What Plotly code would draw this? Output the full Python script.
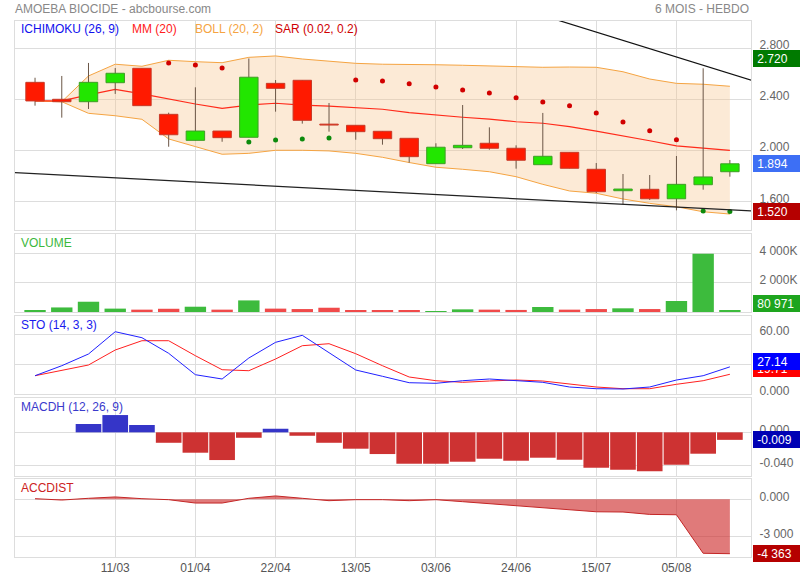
import plotly.graph_objects as go

# ---------------- data (weekly) ----------------
DATES = ["19/02", "26/02", "04/03", "11/03", "18/03", "25/03", "01/04", "08/04", "15/04",
         "22/04", "29/04", "06/05", "13/05", "20/05", "27/05", "03/06", "10/06", "17/06",
         "24/06", "01/07", "08/07", "15/07", "22/07", "29/07", "05/08", "12/08", "19/08"]
TICK_LABELS = ["11/03", "01/04", "22/04", "13/05", "03/06", "24/06", "15/07", "05/08"]

OPEN = [2.533, 2.400, 2.381, 2.530, 2.643, 2.282, 2.078, 2.151, 2.102, 2.525, 2.549, 2.205, 2.196, 2.149,
        2.094, 1.895, 2.020, 2.055, 2.016, 1.887, 1.984, 1.851, 1.683, 1.694, 1.620, 1.730, 1.832]
HIGH = [2.569, 2.583, 2.685, 2.645, 2.643, 2.295, 2.494, 2.151, 2.720, 2.551, 2.549, 2.371, 2.196, 2.149,
        2.094, 2.055, 2.355, 2.180, 2.039, 2.293, 1.984, 1.900, 1.814, 1.806, 1.955, 2.643, 1.924]
LOW = [2.350, 2.256, 2.324, 2.442, 2.350, 2.028, 2.078, 2.067, 2.102, 2.303, 2.209, 2.146, 2.083, 2.044,
       1.903, 1.895, 2.010, 2.005, 1.856, 1.887, 1.859, 1.665, 1.576, 1.610, 1.529, 1.691, 1.793]
CLOSE = [2.387, 2.381, 2.533, 2.604, 2.350, 2.122, 2.151, 2.099, 2.573, 2.486, 2.235, 2.198, 2.146, 2.091,
         1.950, 2.024, 2.039, 2.016, 1.922, 1.953, 1.859, 1.675, 1.696, 1.620, 1.733, 1.791, 1.894]

MM20 = [2.387, 2.387, 2.434, 2.478, 2.442, 2.400, 2.363, 2.329, 2.355, 2.369, 2.355, 2.347, 2.334, 2.322,
        2.296, 2.277, 2.259, 2.245, 2.224, 2.212, 2.185, 2.151, 2.115, 2.075, 2.034, 2.016, 2.000]
BOLL_UP = [2.387, 2.381, 2.583, 2.675, 2.659, 2.706, 2.695, 2.687, 2.729, 2.740, 2.716, 2.700, 2.682, 2.675,
           2.675, 2.671, 2.667, 2.661, 2.656, 2.651, 2.653, 2.651, 2.616, 2.559, 2.525, 2.518, 2.502]
BOLL_LO = [2.387, 2.381, 2.290, 2.271, 2.243, 2.089, 2.029, 1.969, 1.976, 2.000, 2.000, 1.995, 1.976, 1.945,
           1.904, 1.867, 1.851, 1.832, 1.793, 1.733, 1.681, 1.663, 1.618, 1.584, 1.557, 1.518, 1.500]
SAR = [None, None, None, None, None, 2.685, 2.669, 2.645, 2.065, 2.081, 2.089, 2.096, 2.551, 2.544,
       2.522, 2.496, 2.473, 2.449, 2.413, 2.379, 2.350, 2.293, 2.222, 2.154, 2.083, 1.524, 1.520]

# hand-drawn trend lines (week index, price)
TREND_UP_X = [15.0, 27.0]
TREND_UP_Y = [3.317, 2.537]
TREND_LO_X = [-1.0, 27.0]
TREND_LO_Y = [1.827, 1.522]

VOLUME = [110e3, 310e3, 700e3, 230e3, 160e3, 220e3, 360e3, 160e3, 790e3, 230e3, 200e3, 290e3, 90e3, 90e3,
          90e3, 50e3, 180e3, 160e3, 140e3, 340e3, 160e3, 200e3, 250e3, 200e3, 750e3, 3970e3, 80971]
VOL_UP = [1, 1, 1, 1, 0, 0, 1, 0, 1, 0, 0, 0, 0, 0, 0, 1, 1, 0, 0, 1, 0, 0, 1, 0, 1, 1, 1]

STO_K = [18.3, 28.3, 40.0, 62.3, 56.3, 40.7, 19.3, 15.0, 36.0, 51.7, 58.7, 41.0, 24.0, 17.7, 11.3, 10.7,
         13.3, 15.0, 13.7, 11.7, 7.0, 5.3, 5.0, 7.0, 14.0, 18.3, 27.14]
STO_D = [18.3, 23.3, 29.0, 44.0, 53.3, 53.3, 38.3, 24.3, 23.3, 35.0, 48.3, 50.3, 40.3, 28.3, 17.0, 13.3,
         11.7, 13.0, 14.0, 13.0, 9.7, 7.0, 5.3, 5.3, 9.7, 13.3, 19.71]

MACDH = [None, None, 0.0100, 0.0207, 0.0088, -0.0125, -0.0244, -0.0332, -0.0065, 0.0043, -0.0041, -0.0125,
         -0.0196, -0.0260, -0.0376, -0.0376, -0.0352, -0.0316, -0.0340, -0.0304, -0.0328, -0.0424, -0.0448,
         -0.0467, -0.0388, -0.0256, -0.0090]

ACCDIST = [50, -60, 80, 190, 50, -30, -300, -300, 80, 270, 80, -110, -30, -30, -110, -30, -190, -350,
           -480, -700, -840, -1000, -1020, -1210, -1240, -4330, -4363]

PERIOD_HIGH = 2.720
PERIOD_LOW = 1.520

# ---------------- figure ----------------
FONT = "Liberation Sans, Arial, sans-serif"
GRID = "#dddddd"
N = len(DATES)
X = list(range(N))
HALF_BODY = 0.345

fig = go.Figure()

# Bollinger band + MM
fig.add_trace(go.Scatter(x=X, y=BOLL_UP, mode="lines", line=dict(color="#f5a442", width=1),
                         xaxis="x", yaxis="y", hoverinfo="skip"))
fig.add_trace(go.Scatter(x=X, y=BOLL_LO, mode="lines", line=dict(color="#f5a442", width=1),
                         fill="tonexty", fillcolor="rgba(248,196,140,0.36)", xaxis="x", yaxis="y",
                         hoverinfo="skip"))
fig.add_trace(go.Scatter(x=X, y=MM20, mode="lines", line=dict(color="#ff2a1a", width=1.2),
                         xaxis="x", yaxis="y"))

# candles: wicks, then bodies drawn as filled rectangles (same layer as the band, so they sit on top)
wx, wy = [], []
for i in X:
    wx += [i, i, None]
    wy += [LOW[i], HIGH[i], None]
fig.add_trace(go.Scatter(x=wx, y=wy, mode="lines", line=dict(color="#6b5646", width=1),
                         xaxis="x", yaxis="y", hoverinfo="skip"))

for is_up, fillc, linec in [(True, "#22e600", "#3f9e26"), (False, "#ff1a00", "#c83a28")]:
    bx, by = [], []
    for i in X:
        o, c = OPEN[i], CLOSE[i]
        if (c >= o) != is_up:
            continue
        bx += [i - HALF_BODY, i + HALF_BODY, i + HALF_BODY, i - HALF_BODY, i - HALF_BODY, None]
        by += [o, o, c, c, o, None]
    fig.add_trace(go.Scatter(x=bx, y=by, mode="lines", fill="toself", fillcolor=fillc,
                             line=dict(color=linec, width=1), xaxis="x", yaxis="y", hoverinfo="skip"))

# SAR dots
sar_hi = [s if (s is not None and s > c) else None for s, c in zip(SAR, CLOSE)]
sar_lo = [s if (s is not None and s < c) else None for s, c in zip(SAR, CLOSE)]
fig.add_trace(go.Scatter(x=X, y=sar_hi, mode="markers", marker=dict(color="#d10000", size=5),
                         xaxis="x", yaxis="y"))
fig.add_trace(go.Scatter(x=X, y=sar_lo, mode="markers", marker=dict(color="#0c8a0c", size=5),
                         xaxis="x", yaxis="y"))

# trend lines
fig.add_trace(go.Scatter(x=TREND_UP_X, y=TREND_UP_Y, mode="lines", line=dict(color="#111111", width=1.2),
                         xaxis="x", yaxis="y"))
fig.add_trace(go.Scatter(x=TREND_LO_X, y=TREND_LO_Y, mode="lines", line=dict(color="#222222", width=1.2),
                         xaxis="x", yaxis="y"))

# volume
fig.add_trace(go.Bar(x=X, y=VOLUME, width=0.8,
                     marker=dict(color=["#3dbb3d" if u else "#f04a4a" for u in VOL_UP], line=dict(width=0)),
                     xaxis="x2", yaxis="y2"))

# stochastic
fig.add_trace(go.Scatter(x=X, y=STO_D, mode="lines", line=dict(color="#ff2020", width=1),
                         xaxis="x3", yaxis="y3"))
fig.add_trace(go.Scatter(x=X, y=STO_K, mode="lines", line=dict(color="#2020ff", width=1),
                         xaxis="x3", yaxis="y3"))

# MACD histogram
fig.add_trace(go.Bar(x=X, y=MACDH, width=0.96,
                     marker=dict(color=["#3535c8" if (v is not None and v >= 0) else "#cd3232" for v in MACDH],
                                 line=dict(width=0)),
                     xaxis="x4", yaxis="y4"))

# ACCDIST
fig.add_trace(go.Scatter(x=X, y=ACCDIST, mode="lines", line=dict(color="#c42626", width=1),
                         fill="tozeroy", fillcolor="rgba(205,40,40,0.62)", xaxis="x5", yaxis="y5"))

# ---------------- axes ----------------
tickvals = [DATES.index(t) for t in TICK_LABELS]
xcommon = dict(range=[-0.75, 26.79], tickvals=tickvals, ticktext=TICK_LABELS, showgrid=True,
               gridcolor=GRID, gridwidth=1, zeroline=False, showline=True, linecolor=GRID, mirror=True,
               ticks="", fixedrange=True, automargin=False)
ycommon = dict(side="right", showgrid=True, gridcolor=GRID, gridwidth=1, zeroline=False, showline=True,
               linecolor=GRID, mirror=True, ticks="", ticklabelshift=-3, ticklabelstandoff=5,
               tickfont=dict(family=FONT, size=12, color="#666666"), fixedrange=True, automargin=False)

domains = {
    "y": [0.6101, 1.0],
    "y2": [0.4571, 0.6026],
    "y3": [0.3041, 0.4496],
    "y4": [0.1511, 0.2966],
    "y5": [0.0, 0.1455],
}

layout = dict(
    width=800, height=580, autosize=False,
    margin=dict(l=15, r=49, t=21, b=23, autoexpand=False),
    paper_bgcolor="white", plot_bgcolor="white",
    showlegend=False, barmode="overlay",
    font=dict(family=FONT, size=12, color="#666666"),
)
for k in range(1, 6):
    xa = dict(xcommon)
    xa["anchor"] = "y" if k == 1 else f"y{k}"
    xa["showticklabels"] = (k == 5)
    xa["tickfont"] = dict(family=FONT, size=12, color="#555555")
    if k > 1:
        xa["matches"] = "x"
    layout["xaxis" if k == 1 else f"xaxis{k}"] = xa

layout["yaxis"] = dict(ycommon, domain=domains["y"], anchor="x", range=[1.375, 3.014],
                       tickvals=[1.6, 2.0, 2.4, 2.8], tickformat=".3f")
layout["yaxis2"] = dict(ycommon, domain=domains["y2"], anchor="x2", range=[0, 5315000],
                        tickvals=[2e6, 4e6], ticktext=["2 000K", "4 000K"])
layout["yaxis3"] = dict(ycommon, domain=domains["y3"], anchor="x3", range=[0, 78],
                        tickvals=[0, 30, 60], ticktext=["0.000", "", "60.00"])
layout["yaxis4"] = dict(ycommon, domain=domains["y4"], anchor="x4", range=[-0.0523, 0.0411],
                        tickvals=[-0.04, 0.0], ticktext=["-0.040", "0.000"])
layout["yaxis5"] = dict(ycommon, domain=domains["y5"], anchor="x5", range=[-4628, 1628],
                        tickvals=[-3000, 0], ticktext=["-3 000", "0.000"])
fig.update_layout(**layout)

# ---------------- text ----------------
ann = []
ann.append(dict(text="AMOEBA BIOCIDE - abcbourse.com", xref="paper", yref="paper", x=0, y=1,
                xanchor="left", yanchor="middle", xshift=-2, yshift=12, showarrow=False,
                font=dict(family=FONT, size=12, color="#888888")))
ann.append(dict(text="6 MOIS - HEBDO", xref="paper", yref="paper", x=1, y=1,
                xanchor="right", yanchor="middle", yshift=12, showarrow=False,
                font=dict(family=FONT, size=12, color="#888888")))

legend_items = [("ICHIMOKU (26, 9)", "#1010ee", 19), ("MM (20)", "#ff2020", 130),
                ("BOLL (20, 2)", "#f5a442", 193), ("SAR (0.02, 0.2)", "#d00000", 273)]
for txt, col, px in legend_items:
    ann.append(dict(text=txt, xref="paper", yref="y domain", x=(px - 15) / 736, y=1, xanchor="left",
                    yanchor="middle", yshift=-8, showarrow=False, font=dict(family=FONT, size=12, color=col)))

for txt, col, ax in [("VOLUME", "#3cb83c", "y2"), ("STO (14, 3, 3)", "#1a1aee", "y3"),
                     ("MACDH (12, 26, 9)", "#3a3acc", "y4"), ("ACCDIST", "#cc2222", "y5")]:
    ann.append(dict(text=txt, xref="paper", yref=f"{ax} domain", x=4 / 736, y=1, xanchor="left",
                    yanchor="middle", yshift=-8.5, showarrow=False, font=dict(family=FONT, size=12, color=col)))


def value_box(text, yval, yref, bg, yshift=0):
    return dict(text="&nbsp;" + text, xref="paper", yref=yref, x=1, y=yval, xanchor="left", yanchor="middle",
                xshift=2, yshift=yshift, showarrow=False, align="left", width=46, height=15, borderpad=1,
                borderwidth=0, bgcolor=bg, font=dict(family=FONT, size=12, color="white"))


ann.append(value_box(f"{PERIOD_HIGH:.3f}", PERIOD_HIGH, "y", "#007a00"))
ann.append(value_box(f"{CLOSE[-1]:.3f}", CLOSE[-1], "y", "#3d6ff5"))
ann.append(value_box(f"{PERIOD_LOW:.3f}", PERIOD_LOW, "y", "#b50000"))
ann.append(value_box(f"{VOLUME[-1]:,.0f}".replace(",", " "), VOLUME[-1], "y2", "#1ea51e", yshift=7))
ann.append(value_box(f"{STO_D[-1]:.2f}", STO_D[-1], "y3", "#ff0000", yshift=6))
ann.append(value_box(f"{STO_K[-1]:.2f}", STO_K[-1], "y3", "#0000ff", yshift=5))
ann.append(value_box(f"{MACDH[-1]:.3f}", MACDH[-1], "y4", "#0000b4"))
ann.append(value_box(f"{ACCDIST[-1]:,.0f}".replace(",", " "), ACCDIST[-1], "y5", "#b50000"))
fig.update_layout(annotations=ann)

fig.write_html(
    "out.html",
    config={"displayModeBar": False, "responsive": False},
    post_script=("document.documentElement.style.margin='0px';document.body.style.margin='0px';"
                 "document.documentElement.style.overflow='hidden';document.body.style.overflow='hidden';"
                 "var d=document.getElementById('{plot_id}');d.style.position='fixed';"
                 "d.style.left='0px';d.style.top='0px';"),
)
